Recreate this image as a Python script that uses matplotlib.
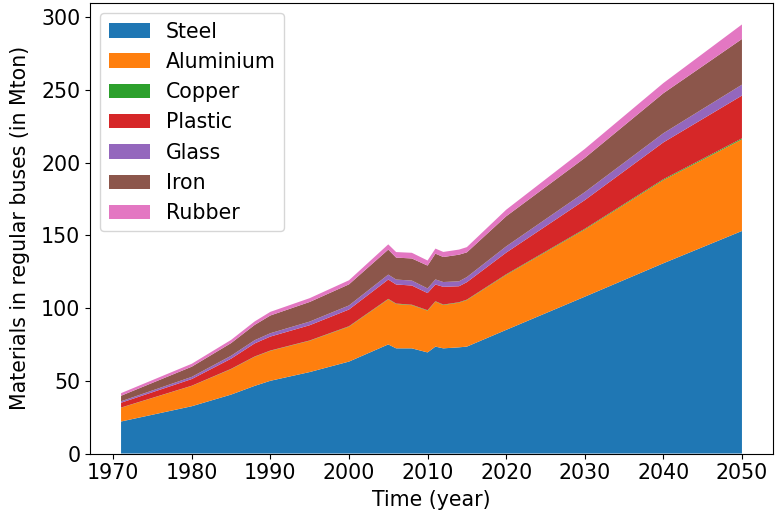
import matplotlib
matplotlib.use("Agg")
import matplotlib.pyplot as plt

# values (Mton), at the years where the shape bends
years = [1971, 1980, 1985, 1988, 1990, 1995, 2000, 2005, 2006, 2008,
         2010, 2011, 2012, 2014, 2015, 2020, 2030, 2040, 2050]
steel = [22, 32.5, 40.5, 46.5, 50, 56, 63.2, 75, 72.3, 72.3,
         69.5, 73.5, 72.3, 73, 73.5, 85, 107.8, 130.8, 153]
aluminium = [9.5, 14, 17.5, 20, 20.6, 21.5, 24, 31, 30.5, 29.7,
             28.7, 30.9, 29.8, 30.7, 32, 37.8, 46.2, 57.2, 63]
copper = [0.1, 0.1, 0.2, 0.2, 0.2, 0.2, 0.3, 0.3, 0.3, 0.3,
          0.3, 0.3, 0.3, 0.3, 0.3, 0.4, 0.5, 0.6, 0.7]
plastic = [3.3, 4.6, 7, 9, 9.6, 10.5, 11.5, 13.3, 13.1, 13.2,
           11.8, 11.5, 12.2, 11, 12, 14.9, 19.7, 25.3, 29.4]
glass = [1, 1.5, 2, 2.2, 2.3, 2.5, 2.8, 3.4, 3.4, 3.4,
         3.2, 3.5, 3.3, 3.4, 3.5, 4.3, 5.5, 6.3, 7.5]
iron = [3.8, 7, 8.7, 10.5, 12.2, 13.5, 14.5, 17.2, 15.1, 15.2,
        15.7, 17.7, 17.2, 18.3, 17, 20.7, 23.5, 27.5, 31.4]
rubber = [1.8, 2, 2.2, 2.4, 2.5, 2.6, 2.8, 3.6, 3.8, 3.9,
          3.5, 3.5, 3.5, 3.5, 3.6, 4.5, 6.2, 7, 10]
labels = ['Steel', 'Aluminium', 'Copper', 'Plastic', 'Glass', 'Iron', 'Rubber']

plt.rcParams['font.size'] = 14.8

fig = plt.figure(figsize=(7.75, 5.19), dpi=100)
ax = fig.add_axes([90 / 775, 65.5 / 519, 683 / 775, 450.5 / 519])

ax.stackplot(years, steel, aluminium, copper, plastic, glass, iron, rubber, labels=labels)

ax.set_xlabel('Time (year)', labelpad=5)
ax.set_ylabel('Materials in regular buses (in Mton)', labelpad=8)
ax.set_xticks(range(1970, 2051, 10))
ax.legend(loc='upper left')

fig.savefig('out.png', dpi=100)
